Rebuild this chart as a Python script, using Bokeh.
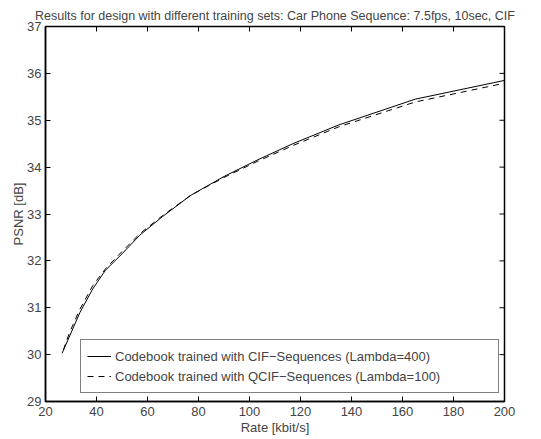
import math
from bokeh.plotting import figure
from bokeh.models import Legend, LegendItem, Range1d, FixedTicker
from bokeh.embed import file_html
from bokeh.resources import INLINE

cif_rate = [26.5, 29.5, 33.5, 38.5, 43.5, 50, 57, 66, 77, 90, 103, 117, 135, 165, 200]
cif_psnr = [30.03, 30.4, 30.9, 31.4, 31.8, 32.15, 32.55, 32.95, 33.4, 33.8, 34.15, 34.5, 34.9, 35.45, 35.85]

qcif_rate = [27, 29.5, 33.5, 38.5, 43.5, 50, 57, 66, 77, 90, 103, 117, 135, 165, 200]
qcif_psnr = [30.1, 30.48, 30.97, 31.47, 31.83, 32.2, 32.58, 32.97, 33.4, 33.78, 34.12, 34.46, 34.86, 35.39, 35.79]

x_ticks = [20, 40, 60, 80, 100, 120, 140, 160, 180, 200]
y_ticks = [29, 30, 31, 32, 33, 34, 35, 36, 37]
x_min, x_max = 20, 200
y_min, y_max = 29, 37

FONT = "Liberation Sans"

p = figure(width=541, height=439, output_backend="svg", toolbar_location=None,
           x_range=Range1d(x_min, x_max), y_range=Range1d(y_min, y_max),
           x_axis_label="Rate [kbit/s]", y_axis_label="PSNR [dB]",
           title="Results for design with different training sets: Car Phone Sequence: 7.5fps, 10sec, CIF",
           min_border_left=45, min_border_right=37, min_border_top=26, min_border_bottom=38)
p.frame_width = 459
p.frame_height = 375

p.title.text_font = FONT
p.title.text_font_size = "12.5px"
p.title.text_font_style = "normal"
p.title.align = "center"
p.title.offset = 0
p.title.standoff = 8

p.grid.visible = False
p.outline_line_color = "black"
p.outline_line_width = 1.5
p.background_fill_color = "white"
p.border_fill_color = "white"

for ax in [p.xaxis[0], p.yaxis[0]]:
    ax.axis_line_color = "black"
    ax.axis_line_width = 1.5
    ax.major_tick_in = 5
    ax.major_tick_out = 0
    ax.minor_tick_line_color = None
    ax.major_label_text_font = FONT
    ax.major_label_text_font_size = "13px"
    ax.axis_label_text_font = FONT
    ax.axis_label_text_font_size = "13px"
    ax.axis_label_text_font_style = "normal"
p.xaxis[0].ticker = FixedTicker(ticks=x_ticks)
p.yaxis[0].ticker = FixedTicker(ticks=y_ticks)
p.xaxis[0].major_label_standoff = 5
p.xaxis[0].axis_label_standoff = 1
p.yaxis[0].major_label_standoff = 4
p.yaxis[0].axis_label_standoff = -2

# tick marks on top and right edges (box style)
p.ray(x=x_ticks, y=[y_max] * len(x_ticks), length=5, length_units="screen",
      angle=-math.pi / 2, line_color="black", line_width=1)
p.ray(x=[x_max] * len(y_ticks), y=y_ticks, length=5, length_units="screen",
      angle=math.pi, line_color="black", line_width=1)

r1 = p.line(cif_rate, cif_psnr, line_color="black", line_width=1)
r2 = p.line(qcif_rate, qcif_psnr, line_color="black", line_width=1, line_dash="6 5")

legend = Legend(items=[
    LegendItem(label="Codebook trained with CIF\u2212Sequences (Lambda=400)", renderers=[r1]),
    LegendItem(label="Codebook trained with QCIF\u2212Sequences (Lambda=100)", renderers=[r2]),
], location=(35, 8))
legend.label_text_font = FONT
legend.label_text_font_size = "13px"
legend.border_line_color = "black"
legend.border_line_width = 1.5
legend.padding = 6
legend.margin = 0
legend.spacing = -2
legend.glyph_width = 24
legend.glyph_height = 20
legend.label_height = 20
legend.label_standoff = 4
legend.label_width = 377
legend.background_fill_alpha = 1
p.add_layout(legend, "center")

open("out.html", "w").write(file_html(p, INLINE))
